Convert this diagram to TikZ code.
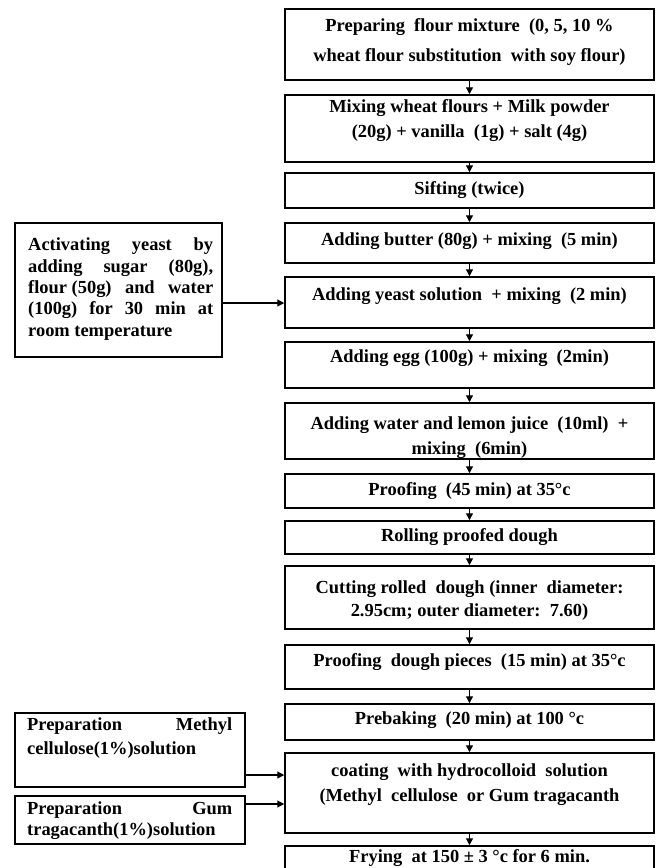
\documentclass[tikz,border=0pt]{standalone}
\usepackage{fontspec}
\setmainfont{Liberation Serif}
\usetikzlibrary{arrows.meta}
\begin{document}
\begin{tikzpicture}[x=1bp,y=-1bp,
  box/.style={draw, line width=1.5bp, minimum width=369bp, inner sep=0pt},
  sidebox/.style={draw, line width=1.5bp, inner sep=0pt},
  txt/.style={font=\bfseries\fontsize{18.5}{25}\selectfont, align=center, inner sep=0pt},
  ltxt/.style={font=\bfseries\fontsize{18.5}{21.5}\selectfont, align=left, inner sep=0pt, anchor=west},
  arr/.style={-{Triangle[width=7bp,length=7bp]}, line width=1.2bp}]
\useasboundingbox (0,0) rectangle (656,868);
\clip (0,0) rectangle (656,868);
% main column boxes
\node[box, minimum height=71bp] (b1) at (469.5,44.5) {};
\node[box, minimum height=67bp] (b2) at (469.5,128.5) {};
\node[box, minimum height=35bp] (b3) at (469.5,190.5) {};
\node[box, minimum height=40bp] (b4) at (469.5,243) {};
\node[box, minimum height=51bp] (b5) at (469.5,302.5) {};
\node[box, minimum height=46bp] (b6) at (469.5,365) {};
\node[box, minimum height=56bp] (b7) at (469.5,431) {};
\node[box, minimum height=34bp] (b8) at (469.5,491) {};
\node[box, minimum height=33bp] (b9) at (469.5,537.5) {};
\node[box, minimum height=63bp] (b10) at (469.5,597.5) {};
\node[box, minimum height=44bp] (b11) at (469.5,667) {};
\node[box, minimum height=36bp] (b12) at (469.5,722) {};
\node[box, minimum height=80bp] (b13) at (469.5,793) {};
\node[box, minimum height=34bp] (b14) at (469.5,863) {};
% texts
\node[txt, font=\bfseries\fontsize{18.5}{30}\selectfont] (t1) at (469.5,42) {Preparing\ \ flour mixture\ \ (0,\ 5,\ 10 \%\\wheat flour substitution\ \ with soy flour)};
\node[txt] (t2) at (469.5,120.5) {Mixing wheat flours + Milk powder\\(20g) + vanilla\ \ (1g) + salt (4g)};
\node[txt] (t3) at (469.5,190) {Sifting (twice)};
\node[txt] (t4) at (469.5,241) {Adding butter (80g) + mixing\ \ (5 min)};
\node[txt] (t5) at (469.5,296) {Adding yeast solution\ \ + mixing\ \ (2 min)};
\node[txt] (t6) at (469.5,358) {Adding egg (100g) + mixing\ \ (2min)};
\node[txt] (t7) at (469.5,437.5) {Adding water and lemon juice\ \ (10ml)\ \ +\\mixing\ \ (6min)};
\node[txt] (t8) at (469.5,491) {Proofing\ \ (45 min) at 35°c};
\node[txt] (t9) at (469.5,537) {Rolling proofed dough};
\node[txt, font=\bfseries\fontsize{18.5}{23}\selectfont] (t10) at (469.5,601) {Cutting rolled\ \ dough (inner\ \ diameter:\\2.95cm; outer diameter:\ \ 7.60)};
\node[txt] (t11) at (469.5,662) {Proofing\ \ dough pieces\ \ (15 min) at 35°c};
\node[txt] (t12) at (469.5,720) {Prebaking\ \ (20 min) at 100 °c};
\node[txt] (t13) at (469.5,784.5) {coating\ \ with hydrocolloid\ \ solution\\(Methyl\ \ cellulose\ \ or Gum tragacanth};
\node[txt] (t14) at (469.5,858) {Frying\ \ at 150 ± 3 °c for 6 min.};
% side boxes
\node[sidebox, minimum width=207bp, minimum height=134bp] (act) at (118.5,290) {};
\node[ltxt] (acttxt) at (28,289) {\hbox to 185bp{Activating\hfill yeast\hfill by}\\
  \hbox to 185bp{adding\hfill sugar\hfill (80g),}\\
  \hbox to 185bp{flour (50g)\hfill and\hfill water}\\
  \hbox to 185bp{(100g)\hfill for\hfill 30\hfill min\hfill at}\\
  room temperature};
\node[sidebox, minimum width=230bp, minimum height=74bp] (methyl) at (130,750) {};
\node[ltxt, font=\bfseries\fontsize{18.5}{24}\selectfont] (methyltxt) at (27,738) {\hbox to 205bp{Preparation\hfill Methyl}\\cellulose(1\%)solution};
\node[sidebox, minimum width=230bp, minimum height=48bp] (gum) at (130,820) {};
\node[ltxt, font=\bfseries\fontsize{18.5}{21}\selectfont] (gumtxt) at (27,821) {\hbox to 205bp{Preparation\hfill Gum}\\tragacanth(1\%)solution};
% connectors
\draw[arr] (b1) -- (b2);
\draw[arr] (b2) -- (b3);
\draw[arr] (b3) -- (b4);
\draw[arr] (b4) -- (b5);
\draw[arr] (b5) -- (b6);
\draw[arr] (b6) -- (b7);
\draw[arr] (b7) -- (b8);
\draw[arr] (b8) -- (b9);
\draw[arr] (b9) -- (b10);
\draw[arr] (b10) -- (b11);
\draw[arr] (b11) -- (b12);
\draw[arr] (b12) -- (b13);
\draw[arr] (b13) -- (b14);
\coordinate (ya) at (0,303);
\coordinate (ym) at (0,775);
\coordinate (yg) at (0,804);
\draw[arr] (act.east |- ya) -- (b5.west |- ya);
\draw[arr] (methyl.east |- ym) -- (b13.west |- ym);
\draw[arr] (gum.east |- yg) -- (b13.west |- yg);
\end{tikzpicture}
\end{document}
